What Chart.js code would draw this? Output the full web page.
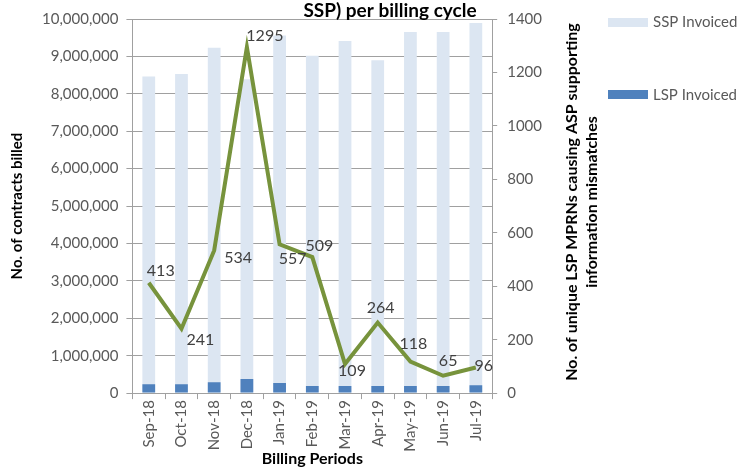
<!DOCTYPE html>
<html lang="en">
<head>
  <meta charset="UTF-8" />
  <title>Contracts billed per billing cycle</title>
  <script src="https://cdn.jsdelivr.net/npm/chart.js"></script>
  <style>
    body {
      margin: 0;
      background: #ffffff;
    }
    .wrap {
      position: relative;
      width: 743px;
      height: 468px;
    }
  </style>
</head>
<body>
  <div class="wrap">
    <canvas id="billChart"></canvas>
  </div>

  <script>
    const periods = ['Sep-18', 'Oct-18', 'Nov-18', 'Dec-18', 'Jan-19', 'Feb-19', 'Mar-19', 'Apr-19', 'May-19', 'Jun-19', 'Jul-19'];
    const sspInvoiced = [8460000, 8530000, 9230000, 8390000, 9560000, 9020000, 9410000, 8900000, 9650000, 9650000, 9890000];
    const lspInvoiced = [240000, 240000, 290000, 375000, 270000, 190000, 190000, 190000, 190000, 190000, 210000];
    const mismatches = [413, 241, 534, 1295, 557, 509, 109, 264, 118, 65, 96];

    // where each number sits next to its point (px), like the excel labels
    const labelOffsets = [[12, -12], [19, 11], [24, 7], [18, -11], [13, 15], [7, -11], [7, 7], [3, -15], [3, -18], [5, -15], [8, -2]];

    const tickColor = '#595959';
    const gridColor = '#a0a0a0';

    const extras = {
      id: 'extras',
      afterDatasetsDraw(chart) {
        const ctx = chart.ctx;
        const meta = chart.getDatasetMeta(0);
        ctx.save();
        ctx.font = '16px Lato';
        ctx.fillStyle = '#404040';
        ctx.textAlign = 'center';
        ctx.textBaseline = 'middle';
        meta.data.forEach((pt, i) => {
          ctx.fillText(mismatches[i], pt.x + labelOffsets[i][0], pt.y + labelOffsets[i][1]);
        });
        ctx.restore();
      },
      afterDraw(chart) {
        const ctx = chart.ctx;
        const area = chart.chartArea;
        ctx.save();

        // title (top lines are cut off in the original)
        ctx.font = 'bold 19px Lato';
        ctx.fillStyle = '#000';
        ctx.textAlign = 'center';
        ctx.textBaseline = 'alphabetic';
        ctx.fillText('SSP) per billing cycle', 390, 17);

        // right axis title, reads bottom to top
        const midY = (area.top + area.bottom) / 2 - 4;
        ctx.font = 'bold 16px Lato';
        ctx.textBaseline = 'middle';
        ctx.save();
        ctx.translate(572, midY);
        ctx.rotate(-Math.PI / 2);
        ctx.fillText('No. of unique LSP MPRNs causing ASP supporting', 0, 0);
        ctx.fillText('information mismatches', 0, 20);
        ctx.restore();

        // legend
        ctx.font = '15px Lato';
        ctx.textAlign = 'left';
        ctx.fillStyle = '#dce6f2';
        ctx.fillRect(608, 18, 40, 9);
        ctx.fillStyle = '#4f81bd';
        ctx.fillRect(608, 90, 40, 9);
        ctx.fillStyle = tickColor;
        ctx.fillText('SSP Invoiced', 653, 22);
        ctx.fillText('LSP Invoiced', 653, 95);
        ctx.restore();
      }
    };

    new Chart(document.getElementById('billChart'), {
      data: {
        labels: periods,
        datasets: [
          {
            type: 'line',
            label: 'Mismatches',
            data: mismatches,
            yAxisID: 'y2',
            borderColor: '#77933c',
            borderWidth: 4,
            pointRadius: 0,
            tension: 0,
            order: 0
          },
          {
            type: 'bar',
            label: 'LSP Invoiced',
            data: lspInvoiced,
            backgroundColor: '#4f81bd',
            stack: 'inv',
            barPercentage: 0.39,
            categoryPercentage: 1,
            order: 1
          },
          {
            type: 'bar',
            label: 'SSP Invoiced',
            data: sspInvoiced,
            backgroundColor: '#dce6f2',
            stack: 'inv',
            barPercentage: 0.39,
            categoryPercentage: 1,
            order: 2
          }
        ]
      },
      options: {
        responsive: true,
        maintainAspectRatio: false,
        animation: false,
        layout: {
          padding: { top: 9, right: 191, left: 8, bottom: 0 }
        },
        plugins: {
          legend: { display: false },
          tooltip: { enabled: false }
        },
        scales: {
          x: {
            stacked: true,
            border: { color: gridColor },
            grid: { drawOnChartArea: false, color: gridColor, tickLength: 6 },
            ticks: {
              color: tickColor,
              font: { family: 'Lato', size: 15 },
              minRotation: 90,
              maxRotation: 90,
              padding: 1
            },
            title: {
              display: true,
              text: 'Billing Periods',
              color: '#000',
              font: { family: 'Lato', size: 16, weight: 'bold' },
              padding: { top: -4, bottom: 0 }
            }
          },
          y: {
            position: 'left',
            stacked: false,
            min: 0,
            max: 10000000,
            border: { color: gridColor },
            grid: { color: gridColor, tickLength: 6 },
            ticks: {
              stepSize: 1000000,
              color: tickColor,
              font: { family: 'Lato', size: 15 },
              padding: 8,
              callback: (v) => v.toLocaleString('en-US')
            },
            title: {
              display: true,
              text: 'No. of contracts billed',
              color: '#000',
              font: { family: 'Lato', size: 15, weight: 'bold' },
              padding: { top: 0, bottom: 8 }
            }
          },
          y2: {
            position: 'right',
            min: 0,
            max: 1400,
            border: { color: gridColor },
            grid: { drawOnChartArea: false, color: gridColor, tickLength: 5 },
            ticks: {
              stepSize: 200,
              color: tickColor,
              font: { family: 'Lato', size: 15 },
              padding: 10,
              callback: (v) => String(v)
            }
          }
        }
      },
      plugins: [extras]
    });
  </script>
</body>
</html>
